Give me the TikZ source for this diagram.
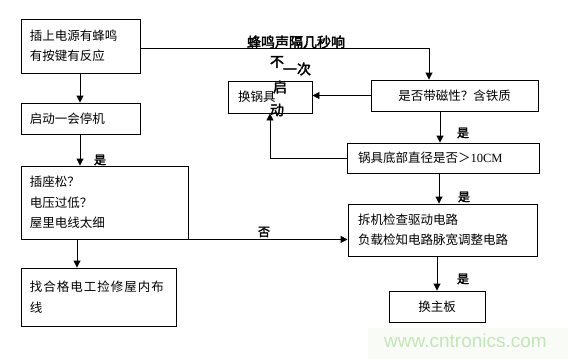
\documentclass[tikz,border=0pt]{standalone}
\usepackage{fontspec}
\setmainfont{Liberation Serif}
\newfontfamily\cjk{Noto Sans CJK SC}
\newfontfamily\cjkb[FakeBold=2.5]{Noto Sans CJK SC}
\newfontfamily\cjkls[LetterSpace=8]{Noto Sans CJK SC}
\newfontfamily\wmfont{Liberation Sans}
\usetikzlibrary{arrows.meta}
\definecolor{wmgreen}{RGB}{196,228,186}
\definecolor{wmback}{RGB}{249,251,247}
\begin{document}
\begin{tikzpicture}[x=1pt,y=-1pt,
  box/.style={draw, line width=0.9pt, inner ysep=0pt, align=left,
    font=\cjk\fontsize{12.5}{20.5}\selectfont},
  cbox/.style={draw, line width=0.9pt, inner sep=0pt, align=center,
    font=\cjk\fontsize{12.5}{20.5}\selectfont},
  arr/.style={line width=0.9pt, -{Triangle[length=7pt,width=7pt]}},
  ln/.style={line width=0.9pt},
  lab/.style={font=\cjkb\fontsize{12}{12}\selectfont, inner sep=0pt},
  note/.style={font=\cjkb\fontsize{14}{14}\selectfont, inner sep=0pt}]
\useasboundingbox (0,0) rectangle (568,359);
\fill[white] (0,0) rectangle (568,359);
\fill[wmback] (368,328) rectangle (568,359);
\node[font=\wmfont\fontsize{19}{19}\selectfont, text=wmgreen, inner sep=0pt] (wm) at (465.5,341) {www.cntronics.com};

% left column
\node[box, inner xsep=9pt, text width=101pt, minimum height=54pt] (b1) at (80.5,46) {插上电源有蜂鸣\\有按键有反应};
\node[box, inner xsep=9pt, text width=101pt, minimum height=31pt] (b2) at (80.5,118.5) {启动一会停机};
\node[box, inner xsep=9pt, text width=149pt, minimum height=73pt] (b3) at (104.5,202.5) {插座松？\\电压过低？\\屋里电线太细};
\node[box, inner xsep=9pt, text width=137pt, minimum height=58pt, font=\cjkls\fontsize{12.5}{20.5}\selectfont] (b4) at (98.5,297) {找合格电工捡修屋内布\\线};

% right column
\node[cbox, minimum width=84pt, minimum height=32pt, align=left, text width=64pt, inner xsep=10pt] (pan) at (270,97) {换锅具};
\node[cbox, minimum width=167pt, minimum height=31pt] (mag) at (454.5,95.5) {是否带磁性？含铁质};
\node[box, inner xsep=11pt, text width=170pt, minimum height=30pt] (size) at (443,158) {锅具底部直径是否＞{\rmfamily 10CM}};
\node[box, inner xsep=10pt, text width=169pt, minimum height=52pt] (b5) at (442.5,230) {拆机检查驱动电路\\负载检知电路脉宽调整电路};
\node[cbox, minimum width=96pt, minimum height=31pt] (b6) at (437,306.5) {换主板};

% helper coordinates
\coordinate (x77) at (77,0);
\coordinate (x80) at (80,0);
\coordinate (x429) at (429,0);
\coordinate (x440) at (440,0);
\coordinate (x439) at (439,0);
\coordinate (y48) at (0,48);

% connectors
\draw[arr] (b1.south -| x80) -- (b2.north -| x80);
\draw[arr] (b2.south -| x80) -- (b3.north -| x80);
\draw[arr] (b3.south -| x77) -- (b4.north -| x77);
\draw[arr] (b3.south east) -- (b5.west |- b3.south east);
\draw[arr] (b1.east |- y48) -| (mag.north -| x429);
\draw[arr] (mag.west) -- (mag.west -| pan.east);
\draw[arr] (mag.south -| x440) -- (size.north -| x440);
\draw[arr] (size.west) -| (pan.south);
\draw[arr] (size.south -| x439) -- (b5.north -| x439);
\draw[arr] (b5.south -| b6.north) -- (b6.north);

% labels
\node[lab] (l1) at (100,160) {是};
\node[lab] (l2) at (463,133) {是};
\node[lab] (l3) at (464,197) {是};
\node[lab] (l4) at (463,279) {是};
\node[lab] (l5) at (264,232) {否};

% overlapping note
\node[note] (n1) at (296,42) {蜂鸣声隔几秒响};
\node[note] (n2) at (277,62) {不};
\node[note] (n3) at (297,69) {一次};
\node[note] (n4) at (280,87) {启};
\node[note] (n5) at (277,110) {动};
\end{tikzpicture}
\end{document}
